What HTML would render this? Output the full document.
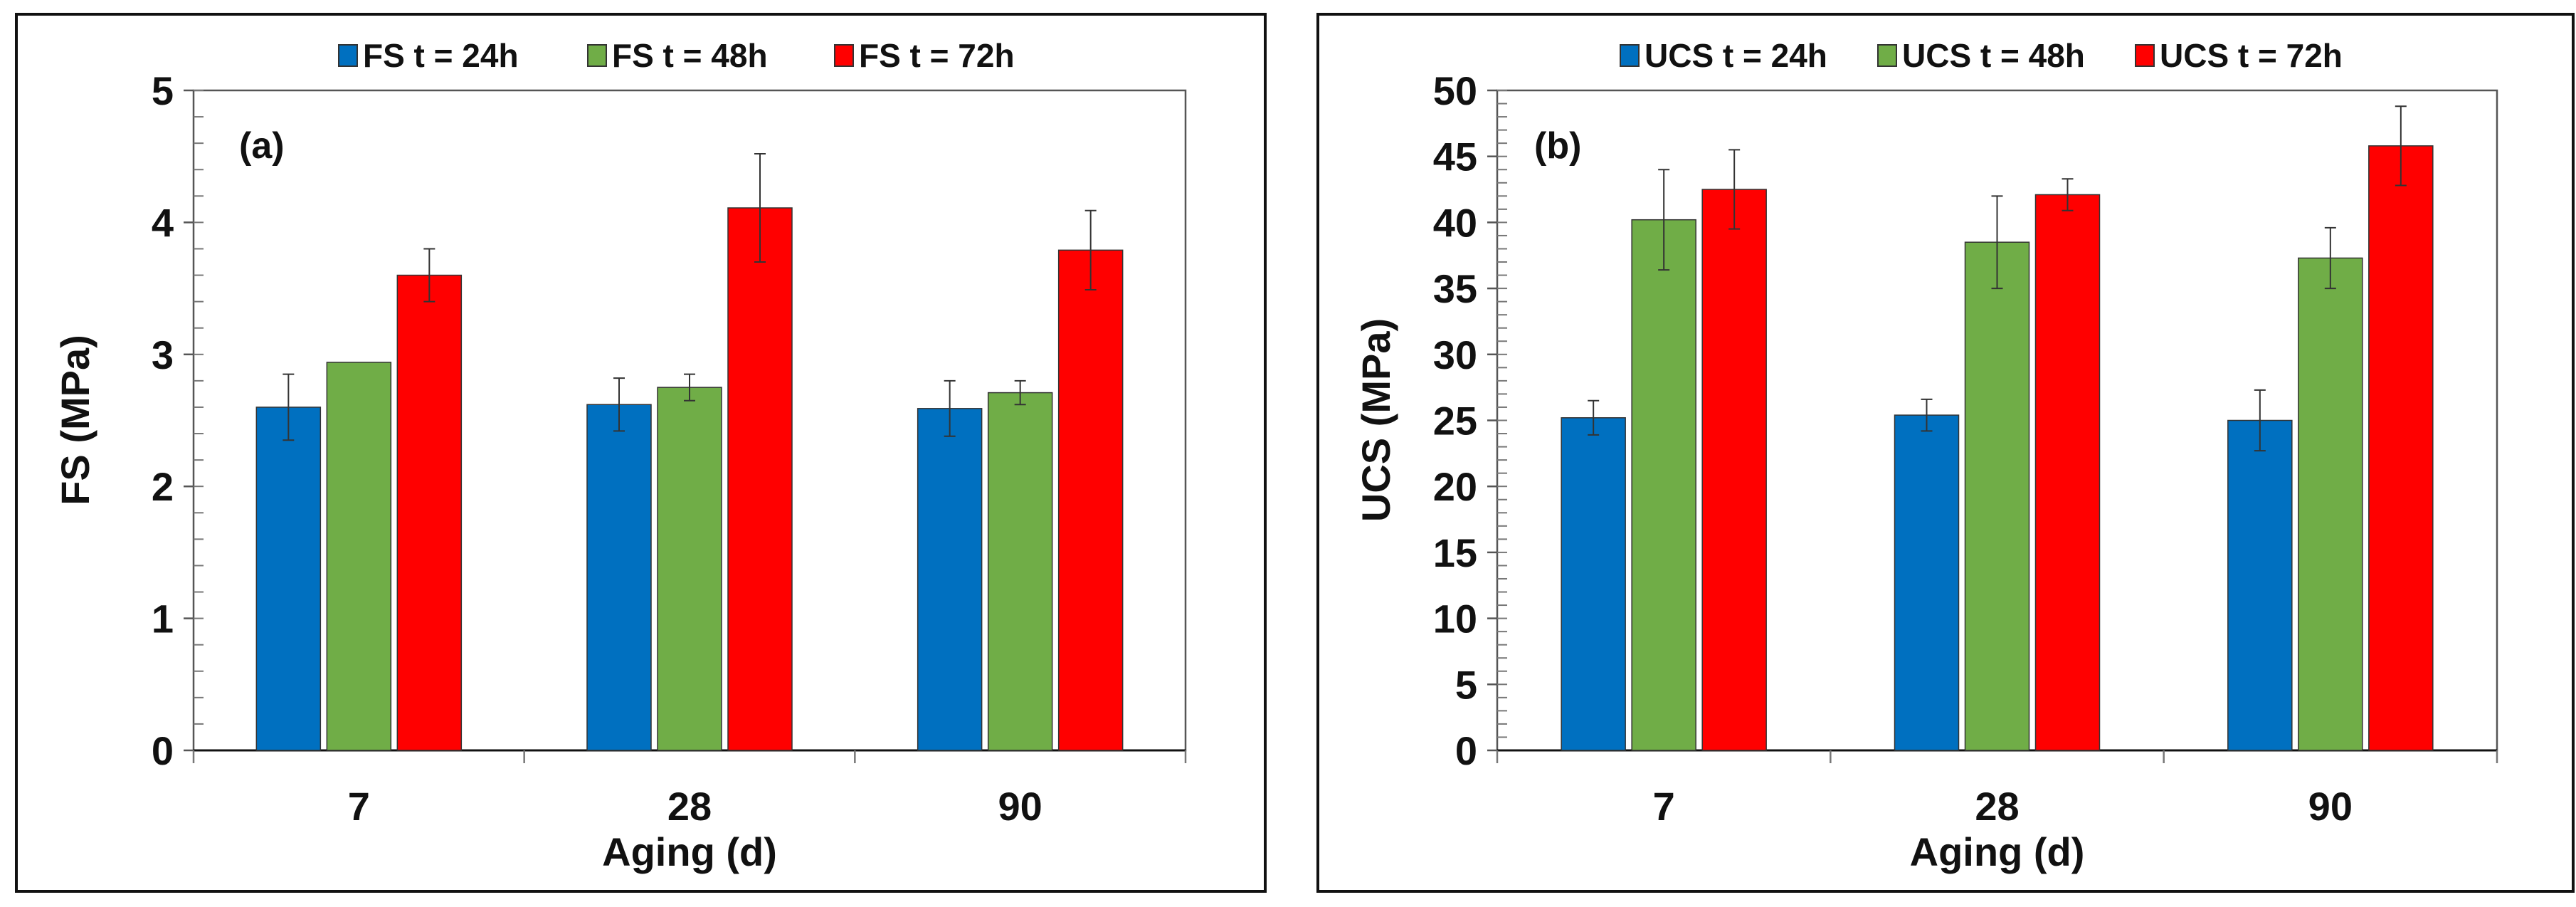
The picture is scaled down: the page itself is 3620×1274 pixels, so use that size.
<!DOCTYPE html>
<html><head><meta charset="utf-8"><style>
html,body{margin:0;padding:0;background:#fff;}
svg{display:block;font-family:"Liberation Sans",Arial,sans-serif;font-weight:bold;}
</style></head><body>
<svg id="chart" width="3620" height="1274" viewBox="0 0 3620 1274" xmlns="http://www.w3.org/2000/svg"></svg>
<script>
const categories = ["7", "28", "90"];
const fs24 = [2.60, 2.62, 2.59];
const fs48 = [2.94, 2.75, 2.71];
const fs72 = [3.60, 4.11, 3.79];
const fs24Err = [0.25, 0.20, 0.21];
const fs48Err = [0.0, 0.10, 0.09];
const fs72Err = [0.20, 0.41, 0.30];
const ucs24 = [25.2, 25.4, 25.0];
const ucs48 = [40.2, 38.5, 37.3];
const ucs72 = [42.5, 42.1, 45.8];
const ucs24Err = [1.3, 1.2, 2.3];
const ucs48Err = [3.8, 3.5, 2.3];
const ucs72Err = [3.0, 1.2, 3.0];
const fsTicks = ["0", "1", "2", "3", "4", "5"];
const ucsTicks = ["0", "5", "10", "15", "20", "25", "30", "35", "40", "45", "50"];
const fsLegend = ["FS t = 24h", "FS t = 48h", "FS t = 72h"];
const ucsLegend = ["UCS t = 24h", "UCS t = 48h", "UCS t = 72h"];

const NS = "http://www.w3.org/2000/svg";
const svg = document.getElementById("chart");
const colors = ["#0070C0", "#70AD47", "#FF0000"];
function mk(tag, attrs, parent) {
  const e = document.createElementNS(NS, tag);
  for (const k in attrs) e.setAttribute(k, attrs[k]);
  (parent || svg).appendChild(e);
  return e;
}

function panel(cfg) {
  const g = mk("g", {});
  
  
  const fr = mk("rect", {x: cfg.fx, y: 20, width: cfg.fw, height: 1232, fill: "none", stroke: "#111", "stroke-width": 4}, g);
  
  
  const x0 = cfg.x0, x1 = cfg.x1, yTop = 127, yBot = 1054;
  const ymax = cfg.ymax;
  const yS = v => yBot - (v / ymax) * (yBot - yTop);
  const catW = (x1 - x0) / categories.length;
  const bw = 90, gap = 9;
  const pb = mk("rect", {x: x0, y: yTop, width: x1 - x0, height: yBot - yTop, fill: "none", stroke: "#555", "stroke-width": 2.5}, g);
  
  
  for (let v = 0; v <= ymax + 1e-9; v += cfg.minor) {
    const t = mk("line", {x1: x0, x2: x0 + 14, y1: yS(v), y2: yS(v), stroke: "#777", "stroke-width": 2}, g);
    
    
  }
  cfg.ticks.forEach(lbl => {
    const v = parseFloat(lbl);
    const t = mk("line", {x1: x0 - 14, x2: x0, y1: yS(v), y2: yS(v), stroke: "#555", "stroke-width": 2.5}, g);
    
    
    const tx = mk("text", {x: x0 - 28, y: yS(v) + 20, "font-size": 56, "text-anchor": "end", fill: "#111"}, g);
    tx.textContent = lbl;
    
    
  });
  const xa = mk("line", {x1: x0, x2: x1, y1: yBot, y2: yBot, stroke: "#111", "stroke-width": 3}, g);
  
  
  for (let i = 0; i <= categories.length; i++) {
    const t = mk("line", {x1: x0 + i * catW, x2: x0 + i * catW, y1: yBot, y2: yBot + 18, stroke: "#777", "stroke-width": 2.5}, g);
    
    
  }
  categories.forEach((c, i) => {
    const cx = x0 + (i + 0.5) * catW;
    const tx = mk("text", {x: cx, y: 1152, "font-size": 56, "text-anchor": "middle", fill: "#111"}, g);
    tx.textContent = c;
    
    
    cfg.series.forEach((s, k) => {
      const bx = cx - bw / 2 + (k - 1) * (bw + gap);
      const v = s[i];
      const r = mk("rect", {x: bx, y: yS(v), width: bw, height: yBot - yS(v), fill: colors[k], stroke: "#333", "stroke-width": 1.5}, g);
      
      
      const e = cfg.errs[k][i];
      if (e > 0) {
        const ex = bx + bw / 2;
        const el = mk("path", {d: `M${ex},${yS(v + e)}V${yS(v - e)}M${ex - 8},${yS(v + e)}h16M${ex - 8},${yS(v - e)}h16`, stroke: "#333", "stroke-width": 2, fill: "none"}, g);
        
        
      }
    });
  });
  const xt = mk("text", {x: (x0 + x1) / 2, y: 1216, "font-size": 56, "text-anchor": "middle", fill: "#111"}, g);
  xt.textContent = "Aging (d)";
  
  
  const yt = mk("text", {x: 0, y: 0, "font-size": 56, "text-anchor": "middle", fill: "#111", transform: `translate(${cfg.ytx},590) rotate(-90)`}, g);
  yt.textContent = cfg.ytitle;
  
  
  const pl = mk("text", {x: cfg.plx, y: 222, "font-size": 52, fill: "#111"}, g);
  pl.textContent = cfg.plabel;
  
  
  cfg.legend.forEach((l, k) => {
    const sq = mk("rect", {x: cfg.legX[k], y: 63, width: 26, height: 30, fill: colors[k], stroke: "#333", "stroke-width": 2}, g);
    
    
    const lt = mk("text", {x: cfg.legX[k] + 34, y: 94, "font-size": 46, fill: "#111"}, g);
    lt.textContent = l;
    
    
  });
}

panel({id: "fs", fx: 23, fw: 1755, x0: 272, x1: 1666, ymax: 5, minor: 0.2, ticks: fsTicks,
  series: [fs24, fs48, fs72], errs: [fs24Err, fs48Err, fs72Err], ytitle: "FS (MPa)", ytx: 125,
  plabel: "(a)", plx: 336, legend: fsLegend, legX: [476, 826, 1173]});
panel({id: "ucs", fx: 1852, fw: 1764, x0: 2104, x1: 3509, ymax: 50, minor: 1, ticks: ucsTicks,
  series: [ucs24, ucs48, ucs72], errs: [ucs24Err, ucs48Err, ucs72Err], ytitle: "UCS (MPa)", ytx: 1953,
  plabel: "(b)", plx: 2156, legend: ucsLegend, legX: [2277, 2639, 3001]});
</script>
</body></html>
